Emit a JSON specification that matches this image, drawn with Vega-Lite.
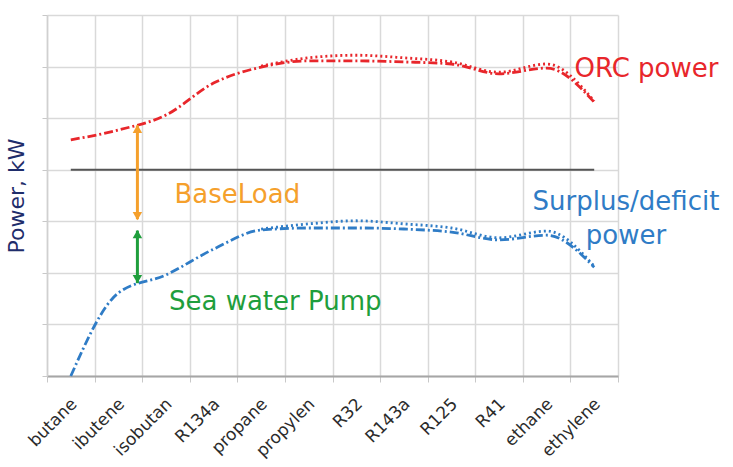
{
  "$schema": "https://vega.github.io/schema/vega-lite/v6.json",
  "width": 571,
  "height": 361,
  "autosize": {"type": "none"},
  "padding": {"left": 47, "top": 15, "right": 115, "bottom": 91},
  "background": "white",
  "config": {
    "font": "DejaVu Sans",
    "view": {"stroke": null},
    "axis": {"gridColor": "#d9d9d9", "gridWidth": 1.5, "tickColor": "#c8c8c8", "domainColor": "#d0d0d0"}
  },
  "datasets": {
    "lines": [
      {"fuel": "butane", "quantity": "ORC power", "variant": "A", "value": 4.58},
      {"fuel": "ibutene", "quantity": "ORC power", "variant": "A", "value": 4.77},
      {"fuel": "isobutan", "quantity": "ORC power", "variant": "A", "value": 5.06},
      {"fuel": "R134a", "quantity": "ORC power", "variant": "A", "value": 5.68},
      {"fuel": "propane", "quantity": "ORC power", "variant": "A", "value": 5.99},
      {"fuel": "propylen", "quantity": "ORC power", "variant": "A", "value": 6.11},
      {"fuel": "R32", "quantity": "ORC power", "variant": "A", "value": 6.11},
      {"fuel": "R143a", "quantity": "ORC power", "variant": "A", "value": 6.09},
      {"fuel": "R125", "quantity": "ORC power", "variant": "A", "value": 6.05},
      {"fuel": "R41", "quantity": "ORC power", "variant": "A", "value": 5.86},
      {"fuel": "ethane", "quantity": "ORC power", "variant": "A", "value": 5.97},
      {"fuel": "ethylene", "quantity": "ORC power", "variant": "A", "value": 5.31},
      {"fuel": "propane", "quantity": "ORC power", "variant": "B", "value": 6.01},
      {"fuel": "propylen", "quantity": "ORC power", "variant": "B", "value": 6.17},
      {"fuel": "R32", "quantity": "ORC power", "variant": "B", "value": 6.22},
      {"fuel": "R143a", "quantity": "ORC power", "variant": "B", "value": 6.17},
      {"fuel": "R125", "quantity": "ORC power", "variant": "B", "value": 6.09},
      {"fuel": "R41", "quantity": "ORC power", "variant": "B", "value": 5.89},
      {"fuel": "ethane", "quantity": "ORC power", "variant": "B", "value": 6.05},
      {"fuel": "ethylene", "quantity": "ORC power", "variant": "B", "value": 5.33},
      {"fuel": "butane", "quantity": "Surplus/deficit power", "variant": "A", "value": 0.0},
      {"fuel": "ibutene", "quantity": "Surplus/deficit power", "variant": "A", "value": 1.61},
      {"fuel": "isobutan", "quantity": "Surplus/deficit power", "variant": "A", "value": 1.96},
      {"fuel": "R134a", "quantity": "Surplus/deficit power", "variant": "A", "value": 2.46},
      {"fuel": "propane", "quantity": "Surplus/deficit power", "variant": "A", "value": 2.83},
      {"fuel": "propylen", "quantity": "Surplus/deficit power", "variant": "A", "value": 2.87},
      {"fuel": "R32", "quantity": "Surplus/deficit power", "variant": "A", "value": 2.87},
      {"fuel": "R143a", "quantity": "Surplus/deficit power", "variant": "A", "value": 2.85},
      {"fuel": "R125", "quantity": "Surplus/deficit power", "variant": "A", "value": 2.79},
      {"fuel": "R41", "quantity": "Surplus/deficit power", "variant": "A", "value": 2.64},
      {"fuel": "ethane", "quantity": "Surplus/deficit power", "variant": "A", "value": 2.73},
      {"fuel": "ethylene", "quantity": "Surplus/deficit power", "variant": "A", "value": 2.11},
      {"fuel": "propane", "quantity": "Surplus/deficit power", "variant": "B", "value": 2.85},
      {"fuel": "propylen", "quantity": "Surplus/deficit power", "variant": "B", "value": 2.95},
      {"fuel": "R32", "quantity": "Surplus/deficit power", "variant": "B", "value": 3.01},
      {"fuel": "R143a", "quantity": "Surplus/deficit power", "variant": "B", "value": 2.95},
      {"fuel": "R125", "quantity": "Surplus/deficit power", "variant": "B", "value": 2.87},
      {"fuel": "R41", "quantity": "Surplus/deficit power", "variant": "B", "value": 2.68},
      {"fuel": "ethane", "quantity": "Surplus/deficit power", "variant": "B", "value": 2.81},
      {"fuel": "ethylene", "quantity": "Surplus/deficit power", "variant": "B", "value": 2.13}
    ]
  },
  "layer": [
    {
      "data": {"name": "lines"},
      "mark": {"type": "line", "interpolate": "monotone", "strokeWidth": 2.8},
      "encoding": {
        "x": {
          "field": "fuel", "type": "nominal", "bandPosition": 0.5,
          "scale": {"type": "band", "paddingInner": 0, "paddingOuter": 0, "domain": ["butane","ibutene","isobutan","R134a","propane","propylen","R32","R143a","R125","R41","ethane","ethylene"]},
          "axis": {"title": null, "grid": true, "tickBand": "extent", "labelAngle": -45, "labelAlign": "right", "labelBaseline": "middle", "labelFontSize": 17, "labelColor": "#2b2b2b", "labelPadding": 19, "labelOffset": 3, "tickSize": 6, "domainColor": "#a6a6a6", "domainWidth": 2}
        },
        "y": {
          "field": "value", "type": "quantitative",
          "scale": {"domain": [0, 7], "nice": false},
          "axis": {"values": [0,1,2,3,4,5,6,7], "labels": false, "tickSize": 5, "title": "Power, kW", "titleFontSize": 22, "titleFontWeight": "normal", "titleColor": "#1f2d6b", "titlePadding": 13, "domainColor": "#d0d0d0", "domainWidth": 1.5}
        },
        "color": {"field": "quantity", "type": "nominal", "scale": {"domain": ["ORC power", "Surplus/deficit power"], "range": ["#e8262b", "#2f7cc6"]}, "legend": null},
        "strokeDash": {"field": "variant", "type": "nominal", "scale": {"domain": ["A", "B"], "range": [[9, 3, 2, 3], [2, 3]]}, "legend": null},
        "detail": {"field": "variant"}
      }
    },
    {
      "data": {"values": [{"from": "butane", "to": "ethylene", "level": 4}]},
      "mark": {"type": "rule", "color": "#555555", "strokeWidth": 2},
      "encoding": {
        "x": {"field": "from", "type": "nominal", "bandPosition": 0.5},
        "x2": {"field": "to"},
        "y": {"field": "level", "type": "quantitative"}
      }
    },
    {
      "data": {"values": [{"fuel": "ibutene", "top": 4.86, "bottom": 3.04}]},
      "mark": {"type": "rule", "color": "#f5a02c", "strokeWidth": 3},
      "encoding": {
        "x": {"field": "fuel", "type": "nominal", "bandPosition": 0.9},
        "y": {"field": "top", "type": "quantitative"},
        "y2": {"field": "bottom"}
      }
    },
    {
      "data": {"values": [{"fuel": "ibutene", "end": "top", "value": 4.79}, {"fuel": "ibutene", "end": "bottom", "value": 3.10}]},
      "mark": {"type": "point", "filled": true, "opacity": 1, "size": 90, "color": "#f5a02c"},
      "encoding": {
        "x": {"field": "fuel", "type": "nominal", "bandPosition": 0.9},
        "y": {"field": "value", "type": "quantitative"},
        "shape": {"field": "end", "type": "nominal", "scale": {"domain": ["top", "bottom"], "range": ["triangle-up", "triangle-down"]}, "legend": null}
      }
    },
    {
      "data": {"values": [{"fuel": "ibutene", "top": 2.82, "bottom": 1.80}]},
      "mark": {"type": "rule", "color": "#1f9e3c", "strokeWidth": 3},
      "encoding": {
        "x": {"field": "fuel", "type": "nominal", "bandPosition": 0.9},
        "y": {"field": "top", "type": "quantitative"},
        "y2": {"field": "bottom"}
      }
    },
    {
      "data": {"values": [{"fuel": "ibutene", "end": "top", "value": 2.75}, {"fuel": "ibutene", "end": "bottom", "value": 1.88}]},
      "mark": {"type": "point", "filled": true, "opacity": 1, "size": 90, "color": "#1f9e3c"},
      "encoding": {
        "x": {"field": "fuel", "type": "nominal", "bandPosition": 0.9},
        "y": {"field": "value", "type": "quantitative"},
        "shape": {"field": "end", "type": "nominal", "scale": {"domain": ["top", "bottom"], "range": ["triangle-up", "triangle-down"]}, "legend": null}
      }
    },
    {
      "data": {"values": [{"fuel": "ethylene", "value": 5.80, "label": "ORC power"}]},
      "mark": {"type": "text", "align": "left", "baseline": "alphabetic", "fontSize": 26, "color": "#e8262b", "dx": 4},
      "encoding": {
        "x": {"field": "fuel", "type": "nominal", "bandPosition": 0},
        "y": {"field": "value", "type": "quantitative"},
        "text": {"field": "label"}
      }
    },
    {
      "data": {"values": [{"fuel": "ethylene", "value": 3.22, "label": "Surplus/deficit\npower"}]},
      "mark": {"type": "text", "align": "center", "baseline": "alphabetic", "fontSize": 26, "color": "#2f7cc6", "dx": 8, "lineBreak": "\n", "lineHeight": 34},
      "encoding": {
        "x": {"field": "fuel", "type": "nominal", "bandPosition": 1},
        "y": {"field": "value", "type": "quantitative"},
        "text": {"field": "label"}
      }
    },
    {
      "data": {"values": [{"fuel": "propane", "value": 3.35, "label": "BaseLoad"}]},
      "mark": {"type": "text", "align": "center", "baseline": "alphabetic", "fontSize": 26, "color": "#f5a02c"},
      "encoding": {
        "x": {"field": "fuel", "type": "nominal", "bandPosition": 0},
        "y": {"field": "value", "type": "quantitative"},
        "text": {"field": "label"}
      }
    },
    {
      "data": {"values": [{"fuel": "isobutan", "value": 1.28, "label": "Sea water Pump"}]},
      "mark": {"type": "text", "align": "left", "baseline": "alphabetic", "fontSize": 26, "color": "#1f9e3c", "dx": 3},
      "encoding": {
        "x": {"field": "fuel", "type": "nominal", "bandPosition": 0.5},
        "y": {"field": "value", "type": "quantitative"},
        "text": {"field": "label"}
      }
    }
  ]
}
